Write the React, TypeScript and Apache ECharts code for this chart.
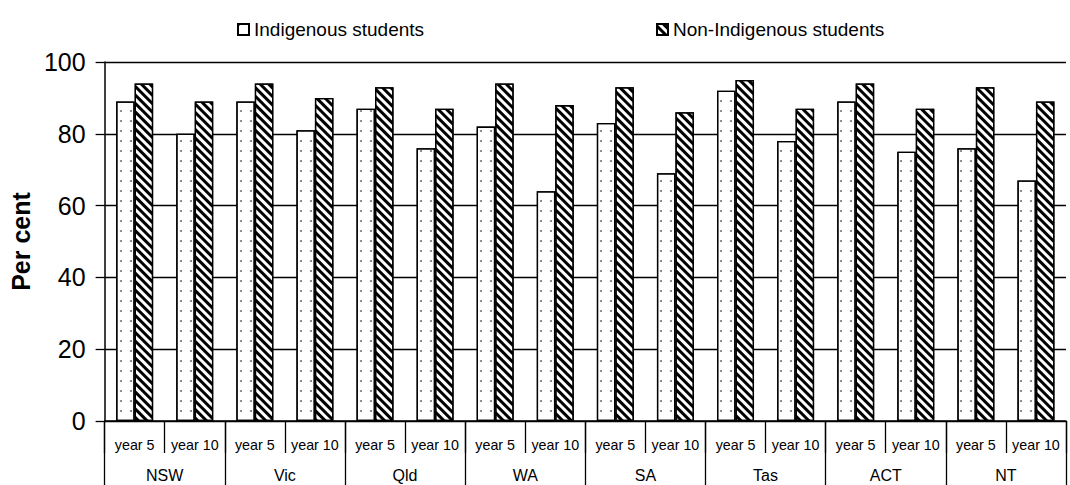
import React, { useEffect, useRef } from "react";
import * as echarts from "echarts";

const states = ["NSW", "Vic", "Qld", "WA", "SA", "Tas", "ACT", "NT"];
const yearLabels = [
  "year 5", "year 10", "year 5", "year 10", "year 5", "year 10", "year 5", "year 10",
  "year 5", "year 10", "year 5", "year 10", "year 5", "year 10", "year 5", "year 10",
];
const indigenous = [89, 80, 89, 81, 87, 76, 82, 64, 83, 69, 92, 78, 89, 75, 76, 67];
const nonIndigenous = [94, 89, 94, 90, 93, 87, 94, 88, 93, 86, 95, 87, 94, 87, 93, 89];
const yTicks = { min: 0, max: 100, interval: 20 };

const FONT = "'Liberation Sans', Arial, sans-serif";

export default function App() {
  const ref = useRef<HTMLDivElement>(null);
  useEffect(() => {
    if (!ref.current) return;
    const chart = echarts.init(ref.current, null, { renderer: "svg" });
    chart.setOption({
      animation: false,
      aria: { enabled: true, decal: { show: true } },
      textStyle: { fontFamily: FONT, color: "#000" },
      legend: [
        {
          data: ["Indigenous students"],
          left: 232,
          top: 15,
          icon: "rect",
          itemWidth: 11,
          itemHeight: 11,
          itemGap: 10,
          textStyle: { fontSize: 19, color: "#000", fontFamily: FONT },
        },
        {
          data: ["Non-Indigenous students"],
          left: 651,
          top: 15,
          icon: "rect",
          itemWidth: 11,
          itemHeight: 11,
          itemGap: 10,
          textStyle: { fontSize: 19, color: "#000", fontFamily: FONT },
        },
      ],
      grid: { left: 101, right: 4, top: 62, bottom: 64, containLabel: false },
      xAxis: [
        {
          type: "category",
          data: yearLabels,
          position: "bottom",
          axisLine: { show: true, lineStyle: { color: "#000", width: 1.5 } },
          axisTick: { show: true, length: 32, interval: 0, lineStyle: { color: "#000", width: 1.3 } },
          axisLabel: { interval: 0, margin: 17, fontSize: 14.3, color: "#000", fontFamily: FONT },
        },
        {
          type: "category",
          data: states,
          position: "bottom",
          axisLine: { show: false },
          axisTick: { show: true, length: 64, interval: 0, lineStyle: { color: "#000", width: 1.3 } },
          axisLabel: { interval: 0, margin: 46, fontSize: 16, color: "#000", fontFamily: FONT },
        },
      ],
      yAxis: {
        type: "value",
        min: yTicks.min,
        max: yTicks.max,
        interval: yTicks.interval,
        name: "Per cent",
        nameLocation: "middle",
        nameRotate: 90,
        nameGap: 63,
        nameTextStyle: { fontSize: 25, fontWeight: "bold", color: "#000", fontFamily: FONT },
        axisLine: { show: true, lineStyle: { color: "#000", width: 1.5 } },
        axisTick: { show: true, length: 9, lineStyle: { color: "#000", width: 1.3 } },
        axisLabel: { fontSize: 25, color: "#000", margin: 19, fontFamily: FONT },
        splitLine: { show: true, lineStyle: { color: "#000", width: 1.3 } },
      },
      series: [
        {
          name: "Indigenous students",
          type: "bar",
          xAxisIndex: 0,
          data: indigenous,
          barWidth: 18.5,
          barGap: "0%",
          itemStyle: {
            color: "#fff",
            borderColor: "#000",
            borderWidth: 1.3,
            decal: {
              symbol: "circle",
              symbolSize: 1,
              color: "#777",
              backgroundColor: "#fff",
              dashArrayX: [2, 8],
              dashArrayY: [2, 8],
              rotation: 0,
            },
          },
        },
        {
          name: "Non-Indigenous students",
          type: "bar",
          xAxisIndex: 0,
          data: nonIndigenous,
          barWidth: 18.5,
          barGap: "0%",
          itemStyle: {
            color: "#fff",
            borderColor: "#000",
            borderWidth: 1.3,
            decal: {
              symbol: "rect",
              symbolSize: 1,
              color: "#000",
              backgroundColor: "#fff",
              dashArrayX: [1, 0],
              dashArrayY: [2.5, 2.5],
              rotation: Math.PI / 4,
            },
          },
        },
      ],
    });
    return () => chart.dispose();
  }, []);
  return <div ref={ref} style={{ width: 1070, height: 485, position: "absolute", left: 0, top: 0 }} />;
}
